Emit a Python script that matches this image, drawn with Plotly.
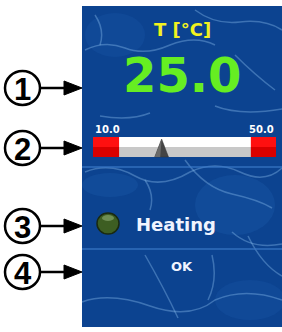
import plotly.graph_objects as go

# ---- data ----
title_text = "T [°C]"
value = 25.0
scale_min = 10.0
scale_max = 50.0
alarm_low = 15.7
alarm_high = 44.5
status_text = "Heating"
state_text = "OK"
callout_labels = ["1", "2", "3", "4"]
callout_y = [88, 148, 226, 272]

W, H = 282, 332
PANEL_X0, PANEL_Y0, PANEL_Y1 = 82, 6, 327
BAR_X0, BAR_X1 = 93, 276
BAR_Y0, BAR_YM, BAR_Y1 = 137, 147, 157

fig = go.Figure()

shapes = []
# panel background
shapes.append(dict(type="rect", xref="x", yref="y", x0=PANEL_X0, x1=W, y0=PANEL_Y0, y1=PANEL_Y1,
                   fillcolor="#0c4390", line=dict(width=0), layer="below"))
# soft lighter patches
for (cx, cy, rx, ry, op) in [(235, 205, 40, 30, 0.2), (115, 35, 30, 22, 0.15), (250, 300, 35, 20, 0.15),
                             (110, 185, 28, 12, 0.2)]:
    shapes.append(dict(type="circle", xref="x", yref="y", x0=cx - rx, x1=cx + rx, y0=cy - ry, y1=cy + ry,
                       fillcolor="#2a6cc0", opacity=op, line=dict(width=0), layer="below"))
# caustic texture lines (decorative)
paths = [
    "M 85,50 Q 105,40 125,48 T 170,45 Q 195,35 215,45",
    "M 95,15 Q 105,30 100,45",
    "M 195,10 Q 215,25 240,22 T 282,30",
    "M 235,55 Q 255,75 275,90",
    "M 85,172 Q 110,162 135,176 T 190,172 Q 215,160 240,172 T 282,168",
    "M 145,180 Q 155,195 150,210",
    "M 185,160 Q 205,188 232,194 T 272,208",
    "M 232,232 Q 252,250 282,244",
    "M 82,302 Q 110,292 150,306 T 215,300 Q 245,287 282,300",
    "M 145,255 Q 165,290 178,318",
    "M 212,255 Q 218,280 208,300",
    "M 248,236 Q 262,265 282,276",
    "M 100,116 Q 130,121 150,113",
    "M 215,106 Q 240,116 282,109",
]
for p in paths:
    shapes.append(dict(type="path", path=p, xref="x", yref="y",
                       line=dict(color="#8cc0f0", width=1.5), opacity=0.38, layer="below"))
# separators
for yy in [167, 249]:
    shapes.append(dict(type="line", xref="x", yref="y", x0=PANEL_X0, x1=W, y0=yy, y1=yy,
                       line=dict(color="#3a78c8", width=1.5), opacity=0.8))

# gauge bar, drawn on the gauge axis x2
shapes.append(dict(type="rect", xref="x2", yref="y", x0=scale_min, x1=scale_max, y0=BAR_Y0, y1=BAR_YM,
                   fillcolor="#ffffff", line=dict(width=0)))
shapes.append(dict(type="rect", xref="x2", yref="y", x0=scale_min, x1=scale_max, y0=BAR_YM, y1=BAR_Y1,
                   fillcolor="#c8c8c8", line=dict(width=0)))
for a, b in [(scale_min, alarm_low), (alarm_high, scale_max)]:
    shapes.append(dict(type="rect", xref="x2", yref="y", x0=a, x1=b, y0=BAR_Y0, y1=BAR_YM,
                       fillcolor="#ff1010", line=dict(width=0)))
    shapes.append(dict(type="rect", xref="x2", yref="y", x0=a, x1=b, y0=BAR_YM, y1=BAR_Y1,
                       fillcolor="#d80000", line=dict(width=0)))
# pointer at the current value (gauge units on x2)
half_w = 1.5
shapes.append(dict(type="path", xref="x2", yref="y",
                   path=f"M {value - half_w},{BAR_Y1} L {value},{BAR_Y0 + 2} L {value + half_w},{BAR_Y1} Z",
                   fillcolor="#444444", line=dict(color="#333333", width=0.5)))
shapes.append(dict(type="path", xref="x2", yref="y",
                   path=f"M {value - half_w},{BAR_Y1} L {value},{BAR_Y0 + 2} L {value - 0.3},{BAR_Y1} Z",
                   fillcolor="#6a6a6a", line=dict(width=0)))

# LED
shapes.append(dict(type="circle", xref="x", yref="y", x0=97, x1=119, y0=213, y1=234,
                   fillcolor="#3d5e22", line=dict(color="#1a2a10", width=1.5)))
shapes.append(dict(type="circle", xref="x", yref="y", x0=102, x1=114, y0=215, y1=221,
                   fillcolor="#7a9a60", line=dict(width=0), opacity=0.8))

# callouts
for lab, cy in zip(callout_labels, callout_y):
    shapes.append(dict(type="circle", xref="x", yref="y", x0=5, x1=40, y0=cy - 17, y1=cy + 17,
                       line=dict(color="black", width=2.5), fillcolor="white"))
    shapes.append(dict(type="line", xref="x", yref="y", x0=40, x1=66, y0=cy, y1=cy,
                       line=dict(color="black", width=2.5)))
    shapes.append(dict(type="path", xref="x", yref="y",
                       path=f"M 64,{cy-7} L 82,{cy} L 64,{cy+7} Z",
                       fillcolor="black", line=dict(color="black", width=1)))

# invisible anchor trace so the gauge axis is instantiated
fig.add_trace(go.Scatter(x=[scale_min, scale_max], y=[BAR_Y0, BAR_Y0], xaxis="x2", yaxis="y",
                         mode="markers", marker=dict(opacity=0), hoverinfo="skip", showlegend=False))

ann = []
ann.append(dict(x=182, y=29, xref="x", yref="y", text=f"<b>{title_text}</b>", showarrow=False,
                font=dict(family="DejaVu Sans", size=18, color="#f2f21e")))
ann.append(dict(x=182, y=75, xref="x", yref="y", text=f"<b>{value:.1f}</b>", showarrow=False,
                font=dict(family="DejaVu Sans", size=48, color="#66ee22")))
ann.append(dict(x=scale_min, y=129, xref="x2", yref="y", text=f"<b>{scale_min:.1f}</b>", showarrow=False,
                xanchor="left", font=dict(family="DejaVu Sans", size=10, color="white")))
ann.append(dict(x=scale_max, y=129, xref="x2", yref="y", text=f"<b>{scale_max:.1f}</b>", showarrow=False,
                xanchor="right", font=dict(family="DejaVu Sans", size=10, color="white")))
ann.append(dict(x=134, y=224, xref="x", yref="y", text=f"<b>{status_text}</b>", showarrow=False,
                xanchor="left", font=dict(family="DejaVu Sans", size=18, color="#f0f4ff")))
ann.append(dict(x=182, y=266, xref="x", yref="y", text=f"<b>{state_text}</b>", showarrow=False,
                font=dict(family="DejaVu Sans", size=13, color="#f0f4ff")))
for lab, cy in zip(callout_labels, callout_y):
    ann.append(dict(x=22.5, y=cy + 1, xref="x", yref="y", text=f"<b>{lab}</b>", showarrow=False,
                    font=dict(family="Liberation Sans", size=31, color="black")))

fig.update_layout(
    width=W, height=H, margin=dict(l=0, r=0, t=0, b=0),
    paper_bgcolor="white", plot_bgcolor="rgba(0,0,0,0)",
    xaxis=dict(range=[0, W], domain=[0, 1], visible=False, fixedrange=True),
    yaxis=dict(range=[H, 0], domain=[0, 1], visible=False, fixedrange=True),
    xaxis2=dict(range=[scale_min, scale_max], domain=[BAR_X0 / W, BAR_X1 / W], anchor="y",
                visible=False, fixedrange=True),
    shapes=shapes, annotations=ann, showlegend=False,
)
fig.write_html("out.html", config=dict(displayModeBar=False),
               post_script="document.body.style.margin='0';document.body.style.overflow='hidden';")
